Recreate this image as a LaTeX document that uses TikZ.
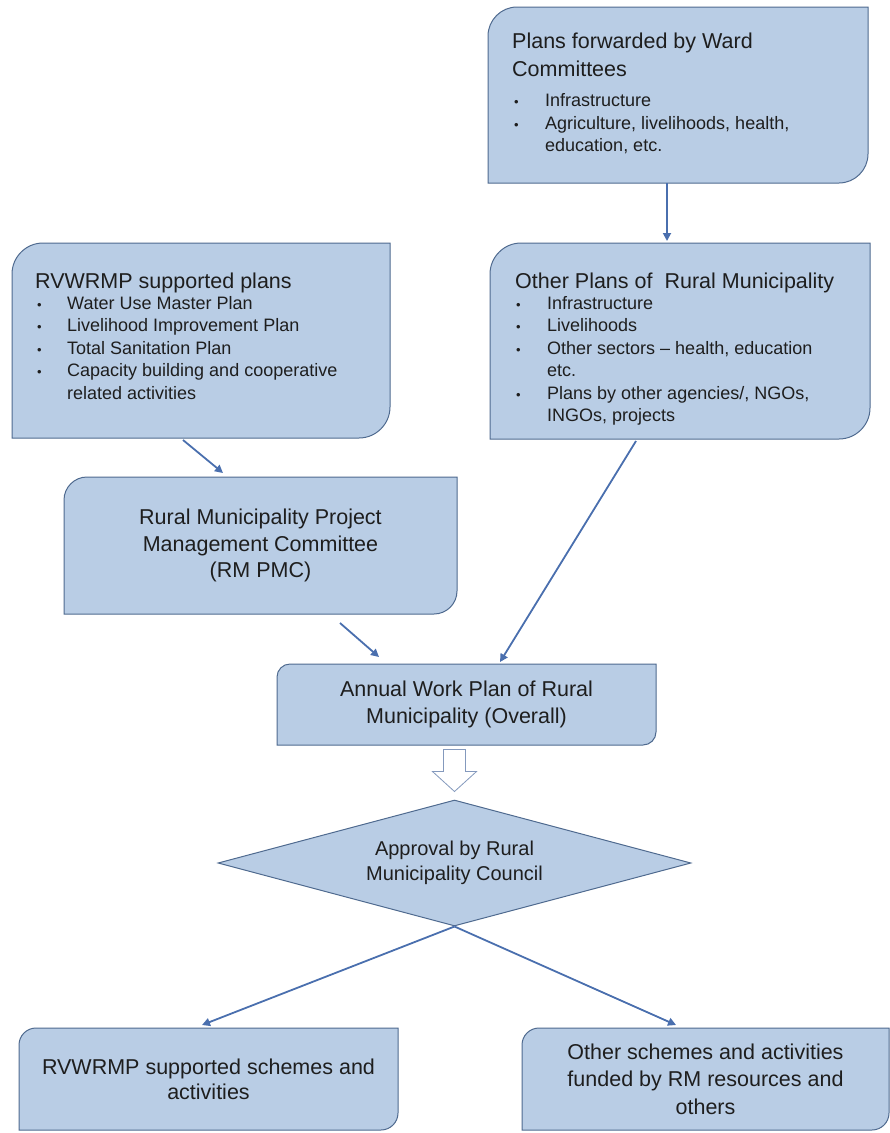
\documentclass[tikz,border=0pt]{standalone}
\usepackage{fontspec}
\setmainfont{Liberation Sans}
\usetikzlibrary{arrows.meta,shapes.geometric,backgrounds,calc}
\definecolor{boxfill}{HTML}{B9CDE5}
\definecolor{boxline}{HTML}{4F6A8F}
\definecolor{arrowblue}{HTML}{4A6FAE}
\definecolor{txt}{HTML}{1E1E1E}
\definecolor{hollowline}{HTML}{8499BD}
\newcommand{\blt}[1]{\makebox[#1][l]{\hspace{1pt}{\fontsize{13}{13}\selectfont\textbullet}}}
\newcommand{\rtwo}[2]{%
  \path[boxshape] (#2.south west) -- ([yshift=-#1]#2.north west)
    .. controls ([yshift=-0.45*#1]#2.north west) and ([xshift=0.45*#1]#2.north west) .. ([xshift=#1]#2.north west)
    -- (#2.north east) -- ([yshift=#1]#2.south east)
    .. controls ([yshift=0.45*#1]#2.south east) and ([xshift=-0.45*#1]#2.south east) .. ([xshift=-#1]#2.south east)
    -- cycle;}
\tikzset{
  boxnode/.style={inner sep=0pt, outer sep=0pt, draw=none},
  boxshape/.style={fill=boxfill, draw=boxline, line width=1pt},
  maintext/.style={text=txt, font=\fontsize{21.5}{26.5}\selectfont, align=center},
  titletext/.style={anchor=base west, inner sep=0pt, text=txt, font=\fontsize{21.5}{28}\selectfont},
  bullettext/.style={anchor=base west, inner sep=0pt, text=txt, font=\fontsize{18}{22.5}\selectfont},
  arr/.style={draw=arrowblue, line width=1.8pt, -{Triangle[length=8pt,width=8pt]}},
  hollow/.style={draw=hollowline, fill=white, line width=0.8pt, line join=miter}
}
\begin{document}
\begin{tikzpicture}[x=1pt,y=-1pt]
\useasboundingbox (0,0) rectangle (890,1133);

% box frames (nodes)
\node[boxnode, minimum width=380pt, minimum height=176pt] (b1) at (678,95) {};
\node[boxnode, minimum width=378pt, minimum height=195pt] (b2) at (201,340.5) {};
\node[boxnode, minimum width=380pt, minimum height=196pt] (b3) at (680,341) {};
\node[boxnode, maintext, minimum width=393pt, minimum height=137pt] (pmc) at (260.5,545.5)
  {Rural Municipality Project\\Management Committee\\(RM PMC)};
\node[boxnode, maintext, font=\fontsize{21.5}{27.5}\selectfont, minimum width=379pt, minimum height=81pt] (awp) at (466.5,704.5)
  {Annual Work Plan of Rural\\Municipality (Overall)};
\node[boxnode, maintext, font=\fontsize{21.5}{25}\selectfont, minimum width=379pt, minimum height=102pt] (b6) at (208.5,1079)
  {RVWRMP supported schemes and\\activities};
\node[boxnode, maintext, font=\fontsize{21.5}{27.5}\selectfont, minimum width=367pt, minimum height=102pt] (b7) at (705.5,1079)
  {Other schemes and activities\\funded by RM resources and\\others};

\node[diamond, draw=boxline, fill=boxfill, line width=1pt, minimum width=473pt, minimum height=126pt,
  inner sep=0pt, aspect=3.75, text=txt, align=center, font=\fontsize{20}{25}\selectfont] (d) at (454.5,863)
  {Approval by Rural\\Municipality Council};

% texts in the list boxes
\node[titletext] (b1t) at (512,48) {\parbox[t]{350pt}{Plans forwarded by Ward\\Committees}};
\node[bullettext] (b1l) at (513,106) {\parbox[t]{350pt}{\blt{32pt}Infrastructure\\[0.5pt]
  \blt{32pt}Agriculture, livelihoods, health,\\\hspace*{32pt}education, etc.}};

\node[titletext] (b2t) at (35,288) {RVWRMP supported plans};
\node[bullettext] (b2l) at (36,309) {\parbox[t]{350pt}{\blt{31pt}Water Use Master Plan\\
  \blt{31pt}Livelihood Improvement Plan\\
  \blt{31pt}Total Sanitation Plan\\
  \blt{31pt}Capacity building and cooperative\\\hspace*{31pt}related activities}};

\node[titletext] (b3t) at (515,288) {Other Plans of\ \ Rural Municipality};
\node[bullettext] (b3l) at (515,309) {\parbox[t]{350pt}{\blt{32pt}Infrastructure\\
  \blt{32pt}Livelihoods\\
  \blt{32pt}Other sectors – health, education\\\hspace*{32pt}etc.\\
  \blt{32pt}Plans by other agencies/, NGOs,\\\hspace*{32pt}INGOs, projects}};

% box outlines on background
\begin{pgfonlayer}{background}
  \rtwo{29pt}{b1}
  \rtwo{31pt}{b2}
  \rtwo{31pt}{b3}
  \rtwo{23pt}{pmc}
  \rtwo{13pt}{awp}
  \rtwo{17pt}{b6}
  \rtwo{17pt}{b7}
\end{pgfonlayer}

% connectors
\draw[arr] ([xshift=-11pt]b1.south) -- ([xshift=-13pt,yshift=2pt]b3.north);
\draw[arr] ([xshift=-18pt,yshift=-2pt]b2.south) -- ([xshift=-37.5pt,yshift=4pt]pmc.north);
\draw[arr] ([xshift=79.5pt,yshift=-9pt]pmc.south) -- ([xshift=-87.5pt,yshift=7pt]awp.north);
\draw[arr] ([xshift=-44pt,yshift=-2pt]b3.south) -- ([xshift=33.5pt,yshift=2pt]awp.north);
\draw[arr] (d.south) -- ([xshift=-6.5pt,yshift=3pt]b6.north);
\draw[arr] (d.south) -- ([xshift=-29.5pt,yshift=3pt]b7.north);

% hollow block arrow from annual work plan to approval
\draw[hollow] ([shift={(-11pt,50pt)}]d.north) -- ([shift={(11pt,50pt)}]d.north)
  -- ([shift={(11pt,28pt)}]d.north) -- ([shift={(22pt,28pt)}]d.north)
  -- ([shift={(0pt,8pt)}]d.north) -- ([shift={(-22pt,28pt)}]d.north)
  -- ([shift={(-11pt,28pt)}]d.north) -- cycle;
\end{tikzpicture}
\end{document}
